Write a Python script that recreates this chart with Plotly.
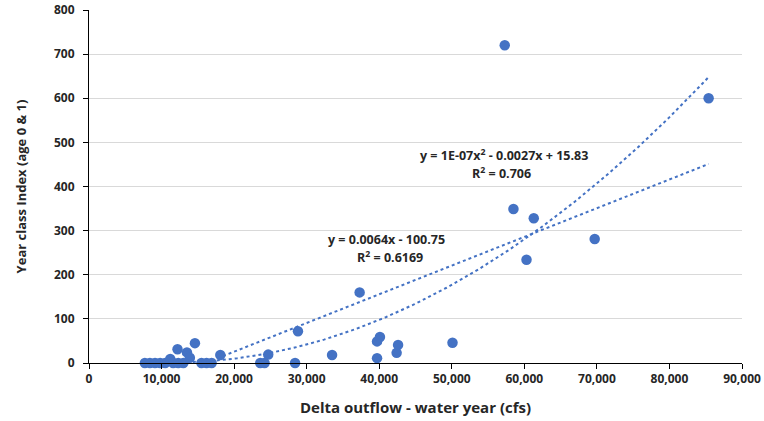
import numpy as np
import plotly.graph_objects as go

# Data
outflow_cfs = [7700, 8400, 9100, 9800, 10500, 11200, 11600, 12200, 12300, 13000,
               13500, 13900, 14600, 15500, 16200, 16900, 18100, 23600, 24200, 24700,
               28400, 28800, 33500, 37300, 39700, 40100, 39700, 42400, 42600, 50100,
               57300, 58500, 60300, 61300, 69700, 85400]
year_class_index = [0, 0, 0, 0, 0, 9, 0, 31, 0, 0,
                    24, 12, 45, 0, 0, 0, 18, 0, 0, 19,
                    0, 72, 18, 160, 49, 59, 11, 23, 41, 46,
                    720, 349, 234, 328, 281, 600]

linear_eq = "y = 0.0064x - 100.75"
linear_r2 = "R<sup>2</sup> = 0.6169"
poly_eq = "y = 1E-07x<sup>2</sup> - 0.0027x + 15.83"
poly_r2 = "R<sup>2</sup> = 0.706"

blue = "#4472C4"
x = np.array(outflow_cfs, dtype=float)
y = np.array(year_class_index, dtype=float)
xs = np.linspace(x.min(), x.max(), 300)
lin = np.polyval(np.polyfit(x, y, 1), xs)
quad = np.polyval(np.polyfit(x, y, 2), xs)

fig = go.Figure()
fig.add_trace(go.Scatter(x=xs, y=lin, mode="lines",
                         line=dict(color=blue, width=2, dash="dot"), hoverinfo="skip"))
fig.add_trace(go.Scatter(x=xs, y=quad, mode="lines",
                         line=dict(color=blue, width=2, dash="dot"), hoverinfo="skip"))
fig.add_trace(go.Scatter(x=outflow_cfs, y=year_class_index, mode="markers",
                         marker=dict(color=blue, size=10.5), cliponaxis=False))

ann_font = dict(family="Open Sans", size=12.5, color="#262626", weight="bold")
fig.add_annotation(x=57160, y=471, text=poly_eq, showarrow=False, font=ann_font)
fig.add_annotation(x=56800, y=431, text=poly_r2, showarrow=False, font=ann_font)
fig.add_annotation(x=41050, y=279, text=linear_eq, showarrow=False, font=ann_font)
fig.add_annotation(x=41500, y=240, text=linear_r2, showarrow=False, font=ann_font)

tick_font = dict(family="Open Sans", size=12, color="#262626", weight="bold")
fig.update_layout(
    width=764, height=421,
    margin=dict(l=89, r=22, t=10, b=58, autoexpand=False),
    paper_bgcolor="white", plot_bgcolor="white",
    showlegend=False,
    font=dict(family="Open Sans", color="#262626"),
    xaxis=dict(range=[0, 90000], dtick=10000, tickformat=",d",
               showgrid=False, zeroline=False, automargin=False,
               showline=True, linecolor="black", linewidth=1,
               ticks="outside", ticklen=5, tickcolor="black",
               tickfont=tick_font,
               title=dict(text="Delta outflow - water year (cfs)",
                          font=dict(family="Open Sans", size=15, color="#262626", weight="bold"),
                          standoff=16)),
    yaxis=dict(range=[0, 800], dtick=100, automargin=False,
               showgrid=True, gridcolor="#D9D9D9", gridwidth=1, zeroline=False,
               showline=True, linecolor="black", linewidth=1,
               ticks="outside", ticklen=5, tickcolor="black",
               tickfont=tick_font, ticklabelstandoff=6,
               title=dict(text="Year class Index (age 0 & 1)",
                          font=dict(family="Open Sans", size=13, color="#262626", weight="bold"),
                          standoff=24)),
)

fig.write_html("out.html")
